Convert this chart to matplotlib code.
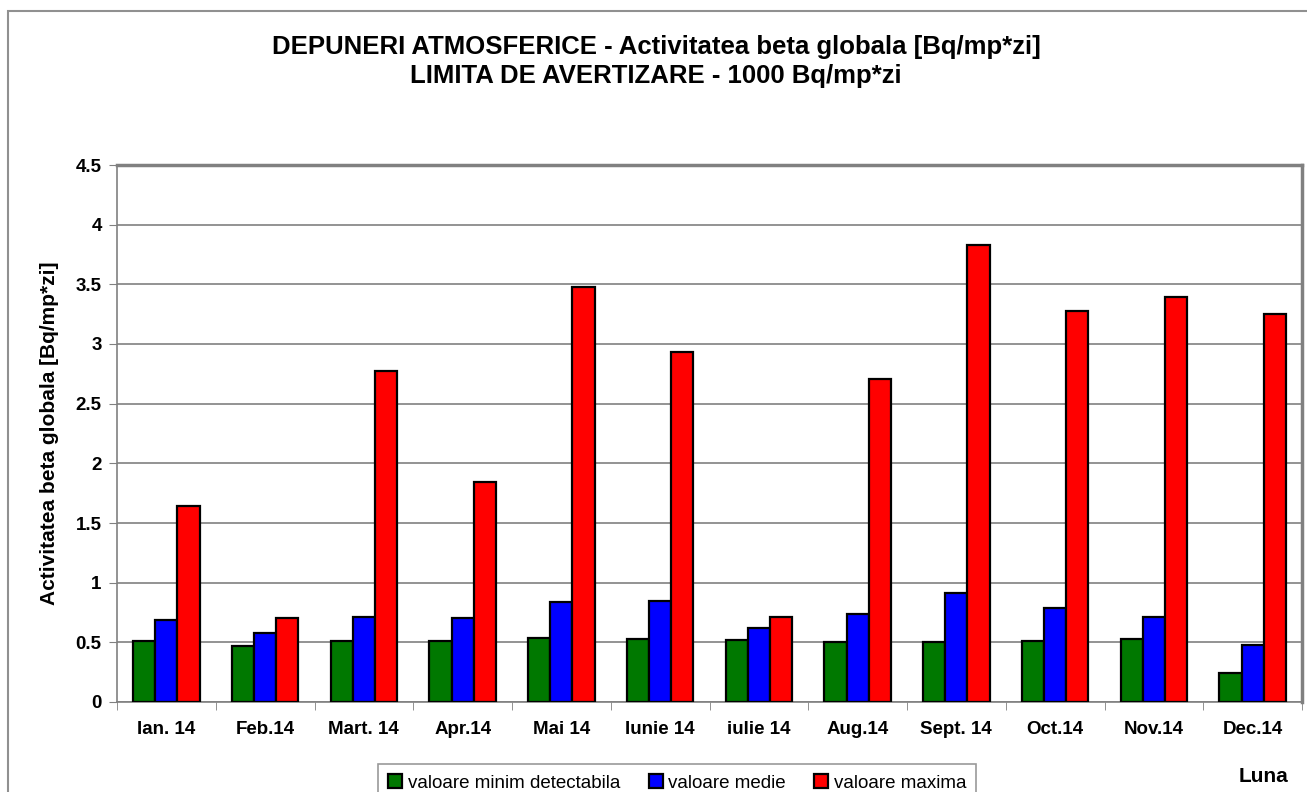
import matplotlib.pyplot as plt
import matplotlib.patches as mpatches
import numpy as np

plt.rcParams['font.family'] = ['Liberation Sans', 'DejaVu Sans']

months = ['Ian. 14', 'Feb.14', 'Mart. 14', 'Apr.14', 'Mai 14', 'Iunie 14',
          'iulie 14', 'Aug.14', 'Sept. 14', 'Oct.14', 'Nov.14', 'Dec.14']
val_min = [0.51, 0.47, 0.51, 0.51, 0.54, 0.53, 0.52, 0.50, 0.50, 0.51, 0.53, 0.24]
val_med = [0.69, 0.58, 0.71, 0.70, 0.84, 0.85, 0.62, 0.74, 0.91, 0.79, 0.71, 0.48]
val_max = [1.64, 0.70, 2.77, 1.84, 3.48, 2.93, 0.71, 2.71, 3.83, 3.28, 3.39, 3.25]
series_names = ['valoare minim detectabila', 'valoare medie', 'valoare maxima']
colors = ['#007800', '#0000ff', '#ff0000']

W, H = 1307, 792
fig = plt.figure(figsize=(W / 100, H / 100), dpi=100)
ax = fig.add_axes([117 / W, 1 - 702 / H, (1302 - 117) / W, (702 - 165) / H])

x = np.arange(len(months))
w = 0.225
for i, (vals, c) in enumerate(zip([val_min, val_med, val_max], colors)):
    ax.bar(x + (i - 1) * w, vals, w, color=c, edgecolor='black', linewidth=1.6,
           label=series_names[i], zorder=3)

ax.set_xlim(-0.5, len(months) - 0.5)
ax.set_ylim(0, 4.5)
ax.set_yticks(np.arange(0, 4.51, 0.5))
ax.set_yticklabels(['0', '0.5', '1', '1.5', '2', '2.5', '3', '3.5', '4', '4.5'])
ax.set_xticks(x)
ax.set_xticklabels(months)
ax.set_xticks(np.arange(-0.5, len(months), 1), minor=True)
ax.tick_params(axis='x', which='major', length=0, pad=14, labelsize=13.5)
ax.tick_params(axis='x', which='minor', length=6, color='#808080', direction='out')
ax.tick_params(axis='y', length=6, color='#808080', labelsize=13.5, pad=5)
for lab in ax.get_xticklabels() + ax.get_yticklabels():
    lab.set_fontweight('bold')

ax.grid(axis='y', color='#808080', linewidth=1.2, zorder=0)
for s in ['left', 'bottom']:
    ax.spines[s].set_color('#808080')
    ax.spines[s].set_linewidth(1.2)
for s in ['top', 'right']:
    ax.spines[s].set_color('#808080')
    ax.spines[s].set_linewidth(2.5)

ax.set_ylabel('Activitatea beta globala [Bq/mp*zi]', fontsize=15,
              fontweight='bold', labelpad=12)

fig.text(656 / W, 1 - 47 / H,
         'DEPUNERI ATMOSFERICE - Activitatea beta globala [Bq/mp*zi]',
         ha='center', va='center', fontsize=18.5, fontweight='bold')
fig.text(656 / W, 1 - 76 / H,
         'LIMITA DE AVERTIZARE - 1000 Bq/mp*zi',
         ha='center', va='center', fontsize=18.5, fontweight='bold')
fig.text(1263 / W, 1 - 776 / H, 'Luna', ha='center', va='center',
         fontsize=15, fontweight='bold')

# outer chart frame
fig.patches.append(mpatches.Rectangle((8 / W, -0.05), 1.1, 1 - 11 / H + 0.05,
                                      transform=fig.transFigure, fill=False,
                                      edgecolor='#909090', linewidth=1.5))

leg = fig.legend(loc='upper left', bbox_to_anchor=(378 / W, 1 - 764 / H),
                 ncol=3, fontsize=13.5, frameon=True, fancybox=False,
                 edgecolor='#808080', handlelength=0.75, handleheight=0.75,
                 handletextpad=0.3, columnspacing=1.5, borderpad=0.55,
                 borderaxespad=0)
leg.get_frame().set_linewidth(1.2)

fig.savefig('out.png', dpi=100)
